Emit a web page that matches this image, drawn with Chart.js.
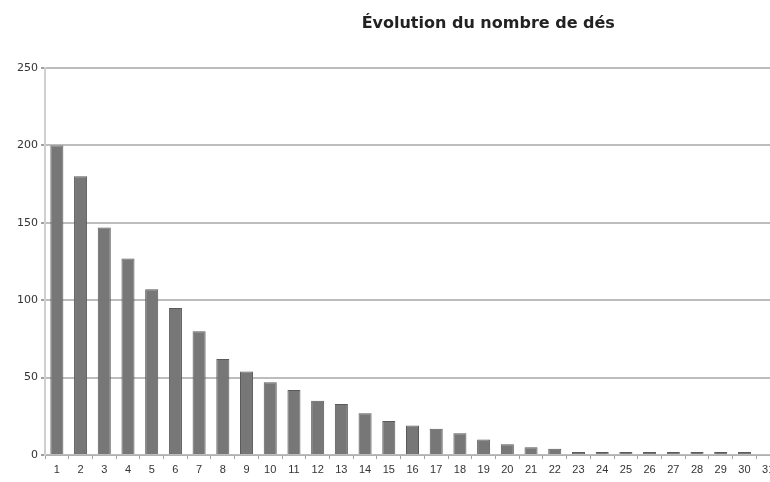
<!DOCTYPE html>
<html>
<head>
<meta charset="utf-8">
<script src="https://cdn.jsdelivr.net/npm/chart.js@4/dist/chart.umd.min.js"></script>
<style>
  html, body { margin: 0; padding: 0; background: #ffffff; overflow: hidden; }
  #wrap { width: 785px; height: 482px; }
</style>
</head>
<body>
<div id="wrap"><canvas id="c" width="785" height="482"></canvas></div>
<script>
// Number of dice remaining at each roll
const titleText = 'Évolution du nombre de dés';
const rolls = [1,2,3,4,5,6,7,8,9,10,11,12,13,14,15,16,17,18,19,20,21,22,23,24,25,26,27,28,29,30,31];
const diceCount = [200,180,147,127,107,95,80,62,54,47,42,35,33,27,22,19,17,14,10,7,5,4,2,2,2,2,2,2,2,2,0];
const yTicks = [0,50,100,150,200,250];

// Title drawn over the chart, slightly right of centre
const titlePlugin = {
  id: 'offsetTitle',
  afterDraw(chart) {
    const ctx = chart.ctx;
    ctx.save();
    ctx.font = 'bold 16px "DejaVu Sans", Verdana, sans-serif';
    ctx.fillStyle = '#222222';
    ctx.textAlign = 'center';
    ctx.textBaseline = 'middle';
    ctx.fillText(titleText, chart.width * 0.622, 24);
    ctx.restore();
  }
};

new Chart(document.getElementById('c'), {
  type: 'bar',
  data: {
    labels: rolls.map(String),
    datasets: [{
      data: diceCount,
      backgroundColor: '#777777',
      borderColor: '#5a5a5a',
      borderWidth: 1,
      categoryPercentage: 1.0,
      barPercentage: 0.55
    }]
  },
  options: {
    responsive: false,
    animation: false,
    devicePixelRatio: 1,
    layout: { padding: { top: 68, right: 5, left: 0, bottom: 0 } },
    plugins: {
      legend: { display: false },
      title: { display: false },
      tooltip: { enabled: false }
    },
    scales: {
      x: {
        offset: true,
        grid: {
          offset: true,
          drawOnChartArea: false,
          drawTicks: true,
          tickLength: 4,
          color: '#a0a0a0'
        },
        border: { display: true, color: '#b0b0b0', width: 1 },
        ticks: {
          color: '#333333',
          font: { family: '"Liberation Sans", Arial, sans-serif', size: 11 },
          padding: 4,
          maxRotation: 0,
          autoSkip: false
        },
        afterFit(scale) { scale.height = 27; }
      },
      y: {
        min: 0,
        max: 250,
        afterBuildTicks(scale) { scale.ticks = yTicks.map(v => ({ value: v })); },
        grid: {
          color: '#bdbdbd',
          lineWidth: 2,
          drawTicks: true,
          tickLength: 4,
          tickColor: '#a0a0a0'
        },
        border: { display: true, color: '#cfcfcf', width: 2 },
        ticks: {
          color: '#333333',
          font: { family: '"DejaVu Sans", Verdana, sans-serif', size: 11 },
          padding: 3
        },
        afterFit(scale) { scale.width = 45; }
      }
    }
  },
  plugins: [titlePlugin]
});
</script>
</body>
</html>
